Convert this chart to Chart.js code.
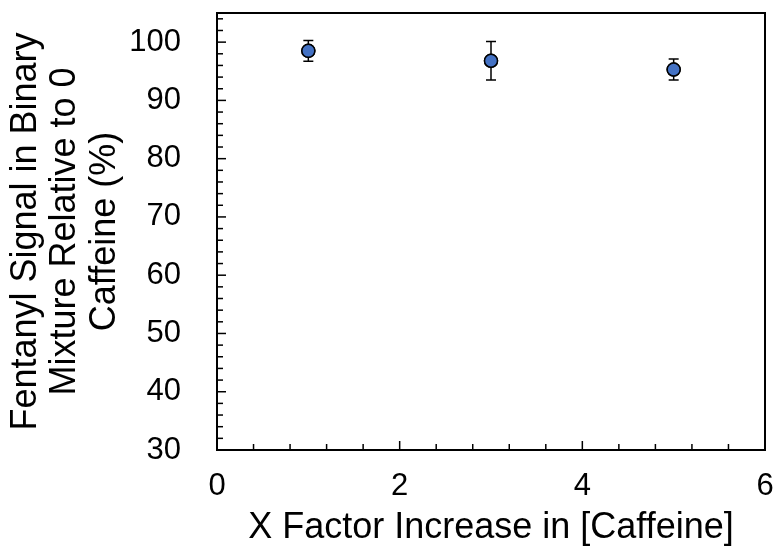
<!DOCTYPE html>
<html>
<head>
<meta charset="utf-8">
<script src="https://cdn.jsdelivr.net/npm/chart.js@4.4.0/dist/chart.umd.min.js"></script>
<style>
  body { margin: 0; background: #fff; }
  #wrap { width: 773px; height: 554px; }
</style>
</head>
<body>
<div id="wrap"><canvas id="myChart"></canvas></div>
<script>
const factors = [1, 3, 5];
const signal = [98.5, 96.8, 95.3];
const errUp = [1.8, 3.3, 1.8];
const errDown = [1.8, 3.3, 1.8];
const xTicks = [0, 2, 4, 6];
const yTicks = [30, 40, 50, 60, 70, 80, 90, 100];

const fontFamily = "'Liberation Sans', Arial, sans-serif";

// error bars, frame and the inward tick marks
const extras = {
  id: "extras",
  afterDatasetsDraw(chart) {
    const c = chart.ctx;
    const xs = chart.scales.x;
    const ys = chart.scales.y;
    const a = chart.chartArea;
    c.save();
    c.strokeStyle = "#000";
    c.lineWidth = 1.5;
    factors.forEach((f, i) => {
      const px = xs.getPixelForValue(f);
      const top = ys.getPixelForValue(signal[i] + errUp[i]);
      const bot = ys.getPixelForValue(signal[i] - errDown[i]);
      c.beginPath();
      c.moveTo(px, top); c.lineTo(px, bot);
      c.moveTo(px - 5, top); c.lineTo(px + 5, top);
      c.moveTo(px - 5, bot); c.lineTo(px + 5, bot);
      c.stroke();
    });
    // points back on top of the bars
    chart.getDatasetMeta(0).data.forEach((p) => {
      c.beginPath();
      c.arc(p.x, p.y, 6.5, 0, Math.PI * 2);
      c.fillStyle = "#4472C4";
      c.fill();
      c.stroke();
    });
    c.lineWidth = 2;
    c.strokeRect(a.left, a.top, a.right - a.left, a.bottom - a.top);
    c.lineWidth = 1.5;
    for (let v = 0; v <= 6.001; v += 0.4) {
      const px = xs.getPixelForValue(v);
      const major = Math.abs(v / 2 - Math.round(v / 2)) < 0.01;
      c.beginPath();
      c.moveTo(px, a.bottom);
      c.lineTo(px, a.bottom - (major ? 9 : 6));
      c.stroke();
    }
    for (let v = 30; v <= 105.001; v += 2) {
      const py = ys.getPixelForValue(v);
      const major = v % 10 === 0;
      c.beginPath();
      c.moveTo(a.left, py);
      c.lineTo(a.left + (major ? 9 : 6), py);
      c.stroke();
    }
    c.restore();
  },
};

const ctx = document.getElementById("myChart").getContext("2d");
const myChart = new Chart(ctx, {
  type: "scatter",
  data: {
    datasets: [
      {
        label: "Fentanyl",
        data: factors.map((f, i) => ({ x: f, y: signal[i] })),
        backgroundColor: "#4472C4",
        borderColor: "#000",
        borderWidth: 1.5,
        pointRadius: 6.5,
      },
    ],
  },
  options: {
    responsive: true,
    maintainAspectRatio: false,
    animation: false,
    layout: { padding: { top: 13, right: 8, left: 0, bottom: 0 } },
    plugins: {
      legend: { display: false },
      tooltip: { enabled: false },
    },
    scales: {
      x: {
        type: "linear",
        min: 0,
        max: 6,
        afterBuildTicks: (s) => { s.ticks = xTicks.map((v) => ({ value: v })); },
        afterFit: (s) => { s.height = 104; s.paddingLeft = 0; s.paddingRight = 0; },
        grid: { display: false },
        border: { display: false },
        ticks: { color: "#000", font: { family: fontFamily, size: 31 }, padding: 10, maxRotation: 0 },
        title: {
          display: true,
          text: "X Factor Increase in [Caffeine]",
          color: "#000",
          font: { family: fontFamily, size: 36 },
          padding: { top: 0 },
        },
      },
      y: {
        type: "linear",
        min: 30,
        max: 105,
        afterBuildTicks: (s) => { s.ticks = yTicks.map((v) => ({ value: v })); },
        afterFit: (s) => { s.width = 217; s.paddingTop = 0; s.paddingBottom = 0; },
        grid: { display: false },
        border: { display: false },
        ticks: { color: "#000", font: { family: fontFamily, size: 31 }, padding: 28 },
        title: {
          display: true,
          text: ["Fentanyl Signal in Binary", "Mixture Relative to 0", "Caffeine (%)"],
          color: "#000",
          font: { family: fontFamily, size: 36, lineHeight: 1.1 },
          padding: { top: 6, bottom: 0 },
        },
      },
    },
  },
  plugins: [extras],
});
</script>
</body>
</html>
